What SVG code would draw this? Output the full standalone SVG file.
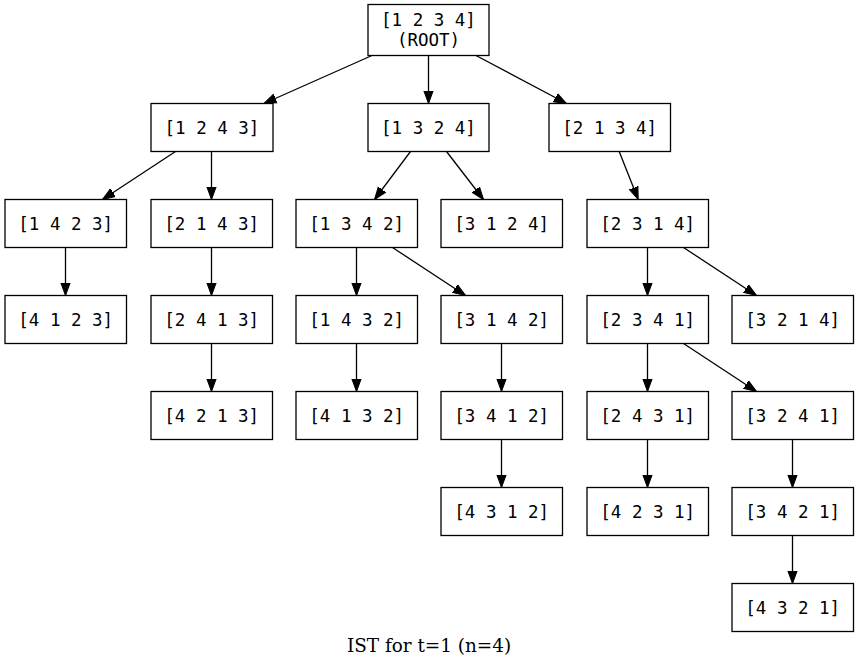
<svg xmlns="http://www.w3.org/2000/svg" width="859" height="668" viewBox="0 0 859 668">
<style>
.n rect{fill:#fff;stroke:#000;stroke-width:1.3}
.n text{font-family:"DejaVu Sans Mono","Liberation Mono",monospace;font-size:17.5px;fill:#000;text-anchor:middle}
.e line{stroke:#000;stroke-width:1.3;marker-end:url(#ah)}
.t{font-family:"DejaVu Serif","Liberation Serif",serif;font-size:18.4px;fill:#000;text-anchor:middle}
</style>
<defs>
<marker id="ah" markerUnits="userSpaceOnUse" markerWidth="14" markerHeight="12" viewBox="0 -6 14 12" refX="12.5" refY="0" orient="auto">
<path d="M0,-4.6 L12.5,0 L0,4.6 Z" fill="#000" stroke="#000" stroke-width="1"/>
</marker>
</defs>
<rect width="859" height="668" fill="#fff"/>
<g class="e" id="edges">
<line x1="372" y1="55.5" x2="264" y2="103.5"/>
<line x1="428.5" y1="55.5" x2="428.5" y2="103.5"/>
<line x1="476" y1="55.5" x2="566.5" y2="103.5"/>
<line x1="175.5" y1="151.5" x2="102.5" y2="199.5"/>
<line x1="211.5" y1="151.5" x2="211.5" y2="199.5"/>
<line x1="410.5" y1="151.5" x2="374.5" y2="199.5"/>
<line x1="446.5" y1="151.5" x2="483.5" y2="199.5"/>
<line x1="619.2" y1="151.5" x2="638.2" y2="199.5"/>
<line x1="65.5" y1="247.5" x2="65.5" y2="295.5"/>
<line x1="211.5" y1="247.5" x2="211.5" y2="295.5"/>
<line x1="356.5" y1="247.5" x2="356.5" y2="295.5"/>
<line x1="392.5" y1="247.5" x2="465.5" y2="295.5"/>
<line x1="647.5" y1="247.5" x2="647.5" y2="295.5"/>
<line x1="683.5" y1="247.5" x2="756.5" y2="295.5"/>
<line x1="211.5" y1="343.5" x2="211.5" y2="391.5"/>
<line x1="356.5" y1="343.5" x2="356.5" y2="391.5"/>
<line x1="501.5" y1="343.5" x2="501.5" y2="391.5"/>
<line x1="647.5" y1="343.5" x2="647.5" y2="391.5"/>
<line x1="683.5" y1="343.5" x2="756.5" y2="391.5"/>
<line x1="501.5" y1="439.5" x2="501.5" y2="487.5"/>
<line x1="647.5" y1="439.5" x2="647.5" y2="487.5"/>
<line x1="792.5" y1="439.5" x2="792.5" y2="487.5"/>
<line x1="792.5" y1="535.5" x2="792.5" y2="583.5"/>
</g>
<g class="n" id="root"><rect x="368" y="4.5" width="121" height="51"/><text x="428.5" y="26">[1 2 3 4]</text><text x="428.5" y="45.5">(ROOT)</text></g>
<g class="n" id="n1243"><rect x="151" y="103.5" width="122" height="48"/><text x="212" y="133.5">[1 2 4 3]</text></g>
<g class="n" id="n1324"><rect x="368" y="103.5" width="121" height="48"/><text x="428.5" y="133.5">[1 3 2 4]</text></g>
<g class="n" id="n2134"><rect x="549" y="103.5" width="121.5" height="48"/><text x="609.75" y="133.5">[2 1 3 4]</text></g>
<g class="n" id="n1423"><rect x="5" y="199.5" width="121.5" height="48"/><text x="65.75" y="229.5">[1 4 2 3]</text></g>
<g class="n" id="n2143"><rect x="151" y="199.5" width="121.5" height="48"/><text x="211.75" y="229.5">[2 1 4 3]</text></g>
<g class="n" id="n1342"><rect x="296" y="199.5" width="121.5" height="48"/><text x="356.75" y="229.5">[1 3 4 2]</text></g>
<g class="n" id="n3124"><rect x="441" y="199.5" width="121.5" height="48"/><text x="501.75" y="229.5">[3 1 2 4]</text></g>
<g class="n" id="n2314"><rect x="587" y="199.5" width="121.5" height="48"/><text x="647.75" y="229.5">[2 3 1 4]</text></g>
<g class="n" id="n4123"><rect x="5" y="295.5" width="121.5" height="48"/><text x="65.75" y="325.5">[4 1 2 3]</text></g>
<g class="n" id="n2413"><rect x="151" y="295.5" width="121.5" height="48"/><text x="211.75" y="325.5">[2 4 1 3]</text></g>
<g class="n" id="n1432"><rect x="296" y="295.5" width="121.5" height="48"/><text x="356.75" y="325.5">[1 4 3 2]</text></g>
<g class="n" id="n3142"><rect x="441" y="295.5" width="121.5" height="48"/><text x="501.75" y="325.5">[3 1 4 2]</text></g>
<g class="n" id="n2341"><rect x="587" y="295.5" width="121.5" height="48"/><text x="647.75" y="325.5">[2 3 4 1]</text></g>
<g class="n" id="n3214"><rect x="732" y="295.5" width="121.5" height="48"/><text x="792.75" y="325.5">[3 2 1 4]</text></g>
<g class="n" id="n4213"><rect x="151" y="391.5" width="121.5" height="48"/><text x="211.75" y="421.5">[4 2 1 3]</text></g>
<g class="n" id="n4132"><rect x="296" y="391.5" width="121.5" height="48"/><text x="356.75" y="421.5">[4 1 3 2]</text></g>
<g class="n" id="n3412"><rect x="441" y="391.5" width="121.5" height="48"/><text x="501.75" y="421.5">[3 4 1 2]</text></g>
<g class="n" id="n2431"><rect x="587" y="391.5" width="121.5" height="48"/><text x="647.75" y="421.5">[2 4 3 1]</text></g>
<g class="n" id="n3241"><rect x="732" y="391.5" width="121.5" height="48"/><text x="792.75" y="421.5">[3 2 4 1]</text></g>
<g class="n" id="n4312"><rect x="441" y="487.5" width="121.5" height="48"/><text x="501.75" y="517.5">[4 3 1 2]</text></g>
<g class="n" id="n4231"><rect x="587" y="487.5" width="121.5" height="48"/><text x="647.75" y="517.5">[4 2 3 1]</text></g>
<g class="n" id="n3421"><rect x="732" y="487.5" width="121.5" height="48"/><text x="792.75" y="517.5">[3 4 2 1]</text></g>
<g class="n" id="n4321"><rect x="732" y="583.5" width="121.5" height="48"/><text x="792.75" y="613.5">[4 3 2 1]</text></g>
<text class="t" x="429" y="651.7">IST for t=1 (n=4)</text>
</svg>
